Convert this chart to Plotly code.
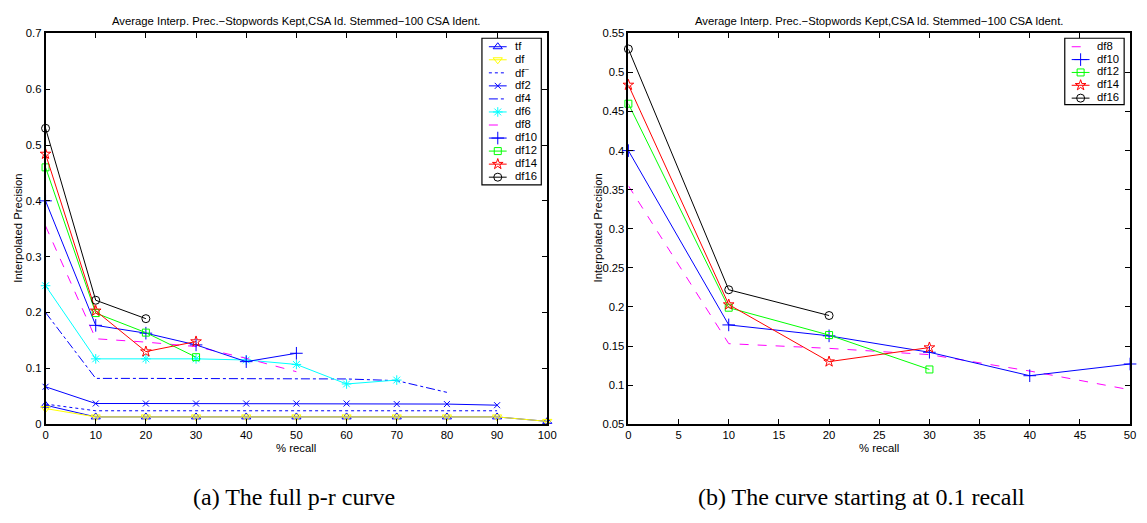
import plotly.graph_objects as go

W, H = 1147, 523

recall_full = [0, 10, 20, 30, 40, 50, 60, 70, 80, 90, 100]

tf = [0.034, 0.013, 0.013, 0.013, 0.013, 0.013, 0.013, 0.013, 0.013, 0.013, 0.005]
df = [0.028, 0.013, 0.013, 0.013, 0.013, 0.013, 0.013, 0.013, 0.013, 0.013, 0.005]
df_tilde = [0.036, 0.024, 0.024, 0.024, 0.024, 0.024, 0.024, 0.024, 0.024, 0.024]
df2 = [0.067, 0.037, 0.037, 0.037, 0.037, 0.037, 0.037, 0.036, 0.036, 0.034]
df4 = [0.200, 0.082, 0.082, 0.082, 0.082, 0.082, 0.081, 0.078, 0.057]
df6 = [0.248, 0.117, 0.117, 0.117, 0.115, 0.107, 0.072, 0.079]
df8 = [0.355, 0.153, 0.147, 0.139, 0.118, 0.094]
df10 = [0.400, 0.177, 0.163, 0.142, 0.112, 0.127]
df12 = [0.460, 0.199, 0.164, 0.120]
df14 = [0.484, 0.203, 0.130, 0.148]
df16 = [0.530, 0.222, 0.189]

x_ticks_a = [0, 10, 20, 30, 40, 50, 60, 70, 80, 90, 100]
y_ticks_a = [0, 0.1, 0.2, 0.3, 0.4, 0.5, 0.6, 0.7]
y_text_a = ["0", "0.1", "0.2", "0.3", "0.4", "0.5", "0.6", "0.7"]
x_ticks_b = [0, 5, 10, 15, 20, 25, 30, 35, 40, 45, 50]
y_ticks_b = [0.05, 0.1, 0.15, 0.2, 0.25, 0.3, 0.35, 0.4, 0.45, 0.5, 0.55]
y_text_b = ["0.05", "0.1", "0.15", "0.2", "0.25", "0.3", "0.35", "0.4", "0.45", "0.5", "0.55"]

title_text = "Average Interp. Prec.\u2212Stopwords Kept,CSA Id. Stemmed\u2212100 CSA Ident."
caption_a = "(a) The full p-r curve"
caption_b = "(b) The curve starting at 0.1 recall"

# name, values, colour, dash, marker symbol, marker size
series = [
    ("tf", tf, "#0000ff", "solid", "triangle-up-open", 8),
    ("df", df, "#ffff00", "solid", "triangle-down-open", 8),
    ("df<sup>~</sup>", df_tilde, "#0000ff", "dot", None, 0),
    ("df2", df2, "#0000ff", "solid", "x-thin-open", 6),
    ("df4", df4, "#0000ff", "dashdot", None, 0),
    ("df6", df6, "#00ffff", "solid", "asterisk-open", 8),
    ("df8", df8, "#ff00ff", "dash", None, 0),
    ("df10", df10, "#0000ff", "solid", "cross-thin-open", 9),
    ("df12", df12, "#00ff00", "solid", "square-open", 7),
    ("df14", df14, "#ff0000", "solid", "star-open", 8),
    ("df16", df16, "#000000", "solid", "circle-open", 8),
]
right_names = ["df8", "df10", "df12", "df14", "df16"]

FONT = "Liberation Sans"
FS = 11.3

fig = go.Figure()


def add_series(name, vals, color, dash, sym, msz, xa, ya):
    mode = "lines+markers" if sym else "lines"
    mk = dict(symbol=sym, size=msz, color=color, line=dict(color=color, width=1)) if sym else None
    fig.add_trace(go.Scatter(
        x=recall_full[:len(vals)], y=vals, name=name, mode=mode, showlegend=False,
        line=dict(color=color, width=1, dash=dash), marker=mk,
        xaxis=xa, yaxis=ya, cliponaxis=False))


for s in series:
    add_series(*s, "x", "y")
for s in series:
    if s[0] in right_names:
        add_series(*s, "x2", "y2")

# ---- legends (drawn on an overlay axis measured in page pixels) ----
legend_specs = [
    ([s for s in series], (484, 544, 33, 183), 41.7, 13.35),
    ([s for s in series if s[0] in right_names], (1073, 1133, 33, 101), 41.7, 13.15),
]
for items, (bx0, bx1, by0, by1), first_y, step in legend_specs:
    fig.add_shape(type="rect", xref="x3", yref="y3", x0=bx0, x1=bx1, y0=by0, y1=by1,
                  fillcolor="white", line=dict(color="black", width=1.2), layer="below")
    for i, (name, vals, color, dash, sym, msz) in enumerate(items):
        yc = first_y + step * i
        lx0, lx1 = bx0 + 7, bx0 + 25
        fig.add_trace(go.Scatter(
            x=[lx0, lx1], y=[yc, yc], mode="lines", showlegend=False, hoverinfo="skip",
            line=dict(color=color, width=1, dash=dash), xaxis="x3", yaxis="y3"))
        if sym:
            fig.add_trace(go.Scatter(
                x=[(lx0 + lx1) / 2], y=[yc], mode="markers", showlegend=False, hoverinfo="skip",
                marker=dict(symbol=sym, size=msz, color=color, line=dict(color=color, width=1)),
                xaxis="x3", yaxis="y3"))
        fig.add_annotation(x=bx0 + 31, y=yc - 1, xref="x3", yref="y3", text=name, showarrow=False,
                           xanchor="left", yanchor="middle",
                           font=dict(family=FONT, size=FS, color="black"))

ybot = 1 - 428 / H
ytop = 1 - 28 / H

axis_common = dict(showline=True, linecolor="black", linewidth=1.5, mirror="allticks",
                   ticks="inside", ticklen=5, tickcolor="black", showgrid=False, zeroline=False,
                   tickfont=dict(family=FONT, size=FS, color="black"))

fig.update_layout(
    width=W, height=H, margin=dict(l=0, r=0, t=0, b=0),
    paper_bgcolor="white", plot_bgcolor="rgba(0,0,0,0)", showlegend=False,
    xaxis=dict(domain=[43 / W, 550 / W], range=[0, 100], tickvals=x_ticks_a, anchor="y", **axis_common),
    yaxis=dict(domain=[ybot, ytop], range=[0, 0.7], tickvals=y_ticks_a, ticktext=y_text_a, anchor="x", **axis_common),
    xaxis2=dict(domain=[632 / W, 1139 / W], range=[0, 50], tickvals=x_ticks_b, anchor="y2", **axis_common),
    yaxis2=dict(domain=[ybot, ytop], range=[0.05, 0.55], tickvals=y_ticks_b, ticktext=y_text_b, anchor="x2", **axis_common),
    xaxis3=dict(domain=[0, 1], range=[0, W], visible=False, fixedrange=True, anchor="y3"),
    yaxis3=dict(domain=[0, 1], range=[H, 0], visible=False, fixedrange=True, anchor="x3"),
)

ann_font = dict(family=FONT, size=FS, color="black")
for cx in [(43 + 550) / 2, (632 + 1139) / 2]:
    fig.add_annotation(x=cx / W, y=1 - 15 / H, xref="paper", yref="paper", text=title_text,
                       showarrow=False, font=ann_font, xanchor="center", yanchor="middle")
    fig.add_annotation(x=cx / W, y=1 - 452 / H, xref="paper", yref="paper", text="% recall",
                       showarrow=False, font=ann_font, xanchor="center", yanchor="middle")

for lx in [15, 601]:
    fig.add_annotation(x=lx / W, y=1 - 227 / H, xref="paper", yref="paper", text="Interpolated Precision",
                       showarrow=False, font=ann_font, textangle=-90, xanchor="center", yanchor="middle")

cap_font = dict(family="Liberation Serif", size=24, color="black")
fig.add_annotation(x=294 / W, y=1 - 503 / H, xref="paper", yref="paper", text=caption_a,
                   showarrow=False, font=cap_font, xanchor="center", yanchor="middle")
fig.add_annotation(x=868 / W, y=1 - 503 / H, xref="paper", yref="paper", text=caption_b,
                   showarrow=False, font=cap_font, xanchor="center", yanchor="middle")

fig.write_html("out.html")
